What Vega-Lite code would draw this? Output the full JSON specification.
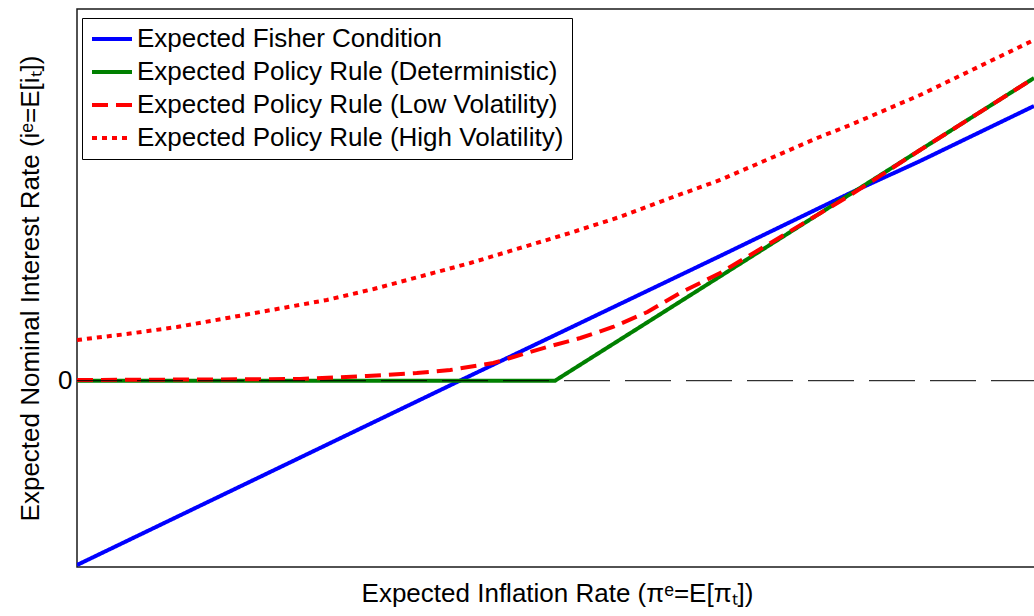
{
  "$schema": "https://vega.github.io/schema/vega-lite/v6.json",
  "width": 960,
  "height": 558,
  "autosize": {"type": "none"},
  "padding": {"left": 77, "top": 9, "right": 0, "bottom": 49},
  "background": "white",
  "config": {
    "font": "Liberation Sans",
    "view": {"stroke": "#1a1a1a", "strokeWidth": 1.5},
    "axis": {"grid": false, "ticks": false, "domain": false, "labelFont": "Liberation Sans", "titleFont": "Liberation Sans", "labelColor": "black", "titleColor": "black", "titleFontWeight": "normal"}
  },
  "datasets": {
    "lines": [
      {"series": "Expected Fisher Condition", "x": 0, "y": -1.843},
      {"series": "Expected Fisher Condition", "x": 4.0, "y": 0.0},
      {"series": "Expected Fisher Condition", "x": 6.72, "y": 1.247},
      {"series": "Expected Fisher Condition", "x": 8.08, "y": 1.877},
      {"series": "Expected Fisher Condition", "x": 8.81, "y": 2.197},
      {"series": "Expected Fisher Condition", "x": 10, "y": 2.747},
      {"series": "Expected Policy Rule (Deterministic)", "x": 0, "y": 0},
      {"series": "Expected Policy Rule (Deterministic)", "x": 4.995, "y": 0},
      {"series": "Expected Policy Rule (Deterministic)", "x": 10, "y": 3.027},
      {"series": "Expected Policy Rule (Low Volatility)", "x": 0, "y": 0.007},
      {"series": "Expected Policy Rule (Low Volatility)", "x": 1.285, "y": 0.012},
      {"series": "Expected Policy Rule (Low Volatility)", "x": 2.33, "y": 0.017},
      {"series": "Expected Policy Rule (Low Volatility)", "x": 3.03, "y": 0.047},
      {"series": "Expected Policy Rule (Low Volatility)", "x": 3.55, "y": 0.077},
      {"series": "Expected Policy Rule (Low Volatility)", "x": 3.9, "y": 0.107},
      {"series": "Expected Policy Rule (Low Volatility)", "x": 4.35, "y": 0.177},
      {"series": "Expected Policy Rule (Low Volatility)", "x": 4.56, "y": 0.237},
      {"series": "Expected Policy Rule (Low Volatility)", "x": 4.91, "y": 0.337},
      {"series": "Expected Policy Rule (Low Volatility)", "x": 5.26, "y": 0.427},
      {"series": "Expected Policy Rule (Low Volatility)", "x": 5.6, "y": 0.537},
      {"series": "Expected Policy Rule (Low Volatility)", "x": 5.96, "y": 0.687},
      {"series": "Expected Policy Rule (Low Volatility)", "x": 6.3, "y": 0.877},
      {"series": "Expected Policy Rule (Low Volatility)", "x": 6.72, "y": 1.077},
      {"series": "Expected Policy Rule (Low Volatility)", "x": 7.42, "y": 1.477},
      {"series": "Expected Policy Rule (Low Volatility)", "x": 8.05, "y": 1.837},
      {"series": "Expected Policy Rule (Low Volatility)", "x": 8.81, "y": 2.307},
      {"series": "Expected Policy Rule (Low Volatility)", "x": 10, "y": 3.027},
      {"series": "Expected Policy Rule (High Volatility)", "x": 0, "y": 0.407},
      {"series": "Expected Policy Rule (High Volatility)", "x": 0.52, "y": 0.467},
      {"series": "Expected Policy Rule (High Volatility)", "x": 1.045, "y": 0.537},
      {"series": "Expected Policy Rule (High Volatility)", "x": 1.57, "y": 0.627},
      {"series": "Expected Policy Rule (High Volatility)", "x": 2.09, "y": 0.717},
      {"series": "Expected Policy Rule (High Volatility)", "x": 2.61, "y": 0.807},
      {"series": "Expected Policy Rule (High Volatility)", "x": 3.1, "y": 0.917},
      {"series": "Expected Policy Rule (High Volatility)", "x": 4.11, "y": 1.177},
      {"series": "Expected Policy Rule (High Volatility)", "x": 5.15, "y": 1.477},
      {"series": "Expected Policy Rule (High Volatility)", "x": 5.67, "y": 1.637},
      {"series": "Expected Policy Rule (High Volatility)", "x": 6.2, "y": 1.827},
      {"series": "Expected Policy Rule (High Volatility)", "x": 6.72, "y": 2.007},
      {"series": "Expected Policy Rule (High Volatility)", "x": 7.76, "y": 2.437},
      {"series": "Expected Policy Rule (High Volatility)", "x": 8.08, "y": 2.557},
      {"series": "Expected Policy Rule (High Volatility)", "x": 8.81, "y": 2.857},
      {"series": "Expected Policy Rule (High Volatility)", "x": 10, "y": 3.407}
    ],
    "zero": [{"y": 0}]
  },
  "layer": [
    {
      "data": {"name": "lines"},
      "mark": {"type": "line", "strokeWidth": 4, "clip": true, "strokeCap": "butt"},
      "encoding": {
        "x": {"field": "x", "type": "quantitative", "scale": {"domain": [0, 10.031], "nice": false, "zero": false},
              "axis": {"labels": false, "title": "Expected Inflation Rate (πᵉ=E[πₜ])", "titleFontSize": 26, "titlePadding": 13}},
        "y": {"field": "y", "type": "quantitative", "scale": {"domain": [-1.863, 3.717], "nice": false, "zero": false},
              "axis": {"values": [0], "format": "d", "labelFontSize": 26, "labelPadding": 5, "title": "Expected Nominal Interest Rate (iᵉ=E[iₜ])", "titleFontSize": 26, "titlePadding": 14}},
        "color": {"field": "series", "type": "nominal",
          "scale": {"domain": ["Expected Fisher Condition", "Expected Policy Rule (Deterministic)", "Expected Policy Rule (Low Volatility)", "Expected Policy Rule (High Volatility)"],
                    "range": ["#0000ff", "#008000", "#ff0000", "#ff0000"]},
          "legend": {"title": null, "orient": "none", "legendX": 5, "legendY": 9, "symbolType": "stroke", "symbolSize": 1600, "symbolStrokeWidth": 4,
                     "labelFontSize": 26, "labelFont": "Liberation Sans", "labelColor": "black", "labelOffset": 3, "labelLimit": 600,
                     "clipHeight": 26, "rowPadding": 7, "padding": 8, "strokeColor": "black", "fillColor": "white", "cornerRadius": 0}},
        "strokeDash": {"field": "series", "type": "nominal",
          "scale": {"domain": ["Expected Fisher Condition", "Expected Policy Rule (Deterministic)", "Expected Policy Rule (Low Volatility)", "Expected Policy Rule (High Volatility)"],
                    "range": [[1, 0], [1, 0], [16, 8], [5, 5]]},
          "legend": null}
      }
    },
    {
      "data": {"name": "zero"},
      "mark": {"type": "rule", "color": "black", "strokeWidth": 1, "strokeDash": [46, 15]},
      "encoding": {"y": {"field": "y", "type": "quantitative"}}
    }
  ]
}
